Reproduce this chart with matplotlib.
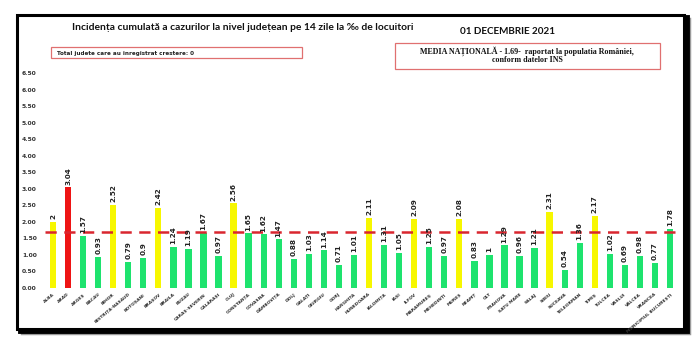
import matplotlib
matplotlib.use("Agg")
import matplotlib.pyplot as plt
from matplotlib.patches import Rectangle

counties = ["ALBA", "ARAD", "ARGEȘ", "BACĂU", "BIHOR", "BISTRIȚA-NĂSĂUD", "BOTOȘANI",
            "BRAȘOV", "BRĂILA", "BUZĂU", "CARAȘ-SEVERIN", "CĂLĂRAȘI", "CLUJ", "CONSTANȚA",
            "COVASNA", "DÂMBOVIȚA", "DOLJ", "GALAȚI", "GIURGIU", "GORJ", "HARGHITA",
            "HUNEDOARA", "IALOMIȚA", "IAȘI", "ILFOV", "MARAMUREȘ", "MEHEDINȚI", "MUREȘ",
            "NEAMȚ", "OLT", "PRAHOVA", "SATU MARE", "SĂLAJ", "SIBIU", "SUCEAVA",
            "TELEORMAN", "TIMIȘ", "TULCEA", "VASLUI", "VÂLCEA", "VRANCEA",
            "MUNICIPIUL BUCUREȘTI"]
values = [2, 3.04, 1.57, 0.93, 2.52, 0.79, 0.9, 2.42, 1.24, 1.19, 1.67, 0.97, 2.56, 1.65,
          1.62, 1.47, 0.88, 1.03, 1.14, 0.71, 1.01, 2.11, 1.31, 1.05, 2.09, 1.25, 0.97, 2.08,
          0.83, 1, 1.29, 0.96, 1.21, 2.31, 0.54, 1.36, 2.17, 1.02, 0.69, 0.98, 0.77, 1.78]
national_avg = 1.69
yticks = [0, 0.5, 1, 1.5, 2, 2.5, 3, 3.5, 4, 4.5, 5, 5.5, 6, 6.5]

GREEN = "#1ee36e"
YELLOW = "#f7f700"
RED = "#ee1414"

def color_for(v):
    if v > 3:
        return RED
    if v >= 2:
        return YELLOW
    return GREEN

fig = plt.figure(figsize=(7, 3.58), dpi=100)
W, H = 700, 358

def fx(px):
    return px / W

def fy(py):
    return 1 - py / H

# frame with shadow
fig.patches.append(Rectangle((fx(22), fy(333)), fx(684) - fx(17), fy(15) - fy(329),
                             transform=fig.transFigure, facecolor="none",
                             edgecolor="#9a9a9a", linewidth=2.5, zorder=0))
fig.patches.append(Rectangle((fx(19.5), fy(331)), fx(684) - fx(17), fy(15) - fy(329),
                             transform=fig.transFigure, facecolor="none",
                             edgecolor="black", linewidth=3.5, zorder=0.2))
fig.patches.append(Rectangle((fx(17), fy(329)), fx(684) - fx(17), fy(15) - fy(329),
                             transform=fig.transFigure, facecolor="white",
                             edgecolor="black", linewidth=2.2, zorder=0.5))

ax = fig.add_axes([fx(45), fy(288), fx(678) - fx(45), fy(73) - fy(288)])
ax.set_zorder(5)
ax.set_facecolor("none")
x = list(range(len(counties)))
ax.bar(x, values, width=0.42, color=[color_for(v) for v in values], zorder=2)
ax.axhline(national_avg, color="#d9262f", linewidth=1.8, dashes=(4.5, 3), zorder=3)

for xi, v in zip(x, values):
    ax.annotate(f"{v:g}", (xi, v), xytext=(0, 2), textcoords="offset points",
                rotation=90, ha="center", va="bottom", fontsize=5.2,
                fontweight="bold", color="#222222", zorder=4)

ax.set_xlim(-0.53, len(counties) - 1 + 0.53)
ax.set_ylim(0, 6.5)
ax.set_yticks(yticks)
ax.set_yticklabels([f"{t:.2f}" for t in yticks], fontsize=4.3, fontweight="bold",
                   color="#333333")
ax.set_xticks(x)
ax.set_xticklabels(counties, rotation=40, ha="right", rotation_mode="anchor",
                   fontsize=3.2, fontweight="bold", color="#333333")
ax.tick_params(axis="both", length=0)
ax.tick_params(axis="y", pad=6)
ax.tick_params(axis="x", pad=3)
for s in ax.spines.values():
    s.set_visible(False)

fig.text(fx(72), fy(28), "Incidența cumulată a cazurilor la nivel județean pe 14 zile la ‰ de locuitori",
         ha="left", va="center", fontsize=7.4, fontweight="bold", family="Lato",
         color="#111111", zorder=6)
fig.text(fx(460), fy(31), "01 DECEMBRIE 2021", ha="left", va="center",
         fontsize=7.1, fontweight="bold", family="Lato", color="#111111", zorder=6)

# box 1
fig.patches.append(Rectangle((fx(51), fy(58)), fx(302) - fx(51), fy(47) - fy(58),
                             transform=fig.transFigure, facecolor="white",
                             edgecolor="#e07070", linewidth=0.9, zorder=2))
fig.text(fx(57), fy(53), "Total judete care au inregistrat crestere: 0", ha="left",
         va="center", fontsize=4.1, fontweight="bold", color="#222222", zorder=6)

# box 2
fig.patches.append(Rectangle((fx(395), fy(69)), fx(660) - fx(395), fy(43) - fy(69),
                             transform=fig.transFigure, facecolor="white",
                             edgecolor="#e07070", linewidth=0.9, zorder=2))
fig.text(fx(527), fy(51.5), "MEDIA NAȚIONALĂ - 1.69-  raportat la populatia României,",
         ha="center", va="center", fontsize=5.8, fontweight="bold",
         family="Liberation Serif", color="#111111", zorder=6)
fig.text(fx(527), fy(60.5), "conform datelor INS", ha="center", va="center",
         fontsize=5.8, fontweight="bold", family="Liberation Serif", color="#111111",
         zorder=6)

fig.savefig("out.png", dpi=100, facecolor="white")
